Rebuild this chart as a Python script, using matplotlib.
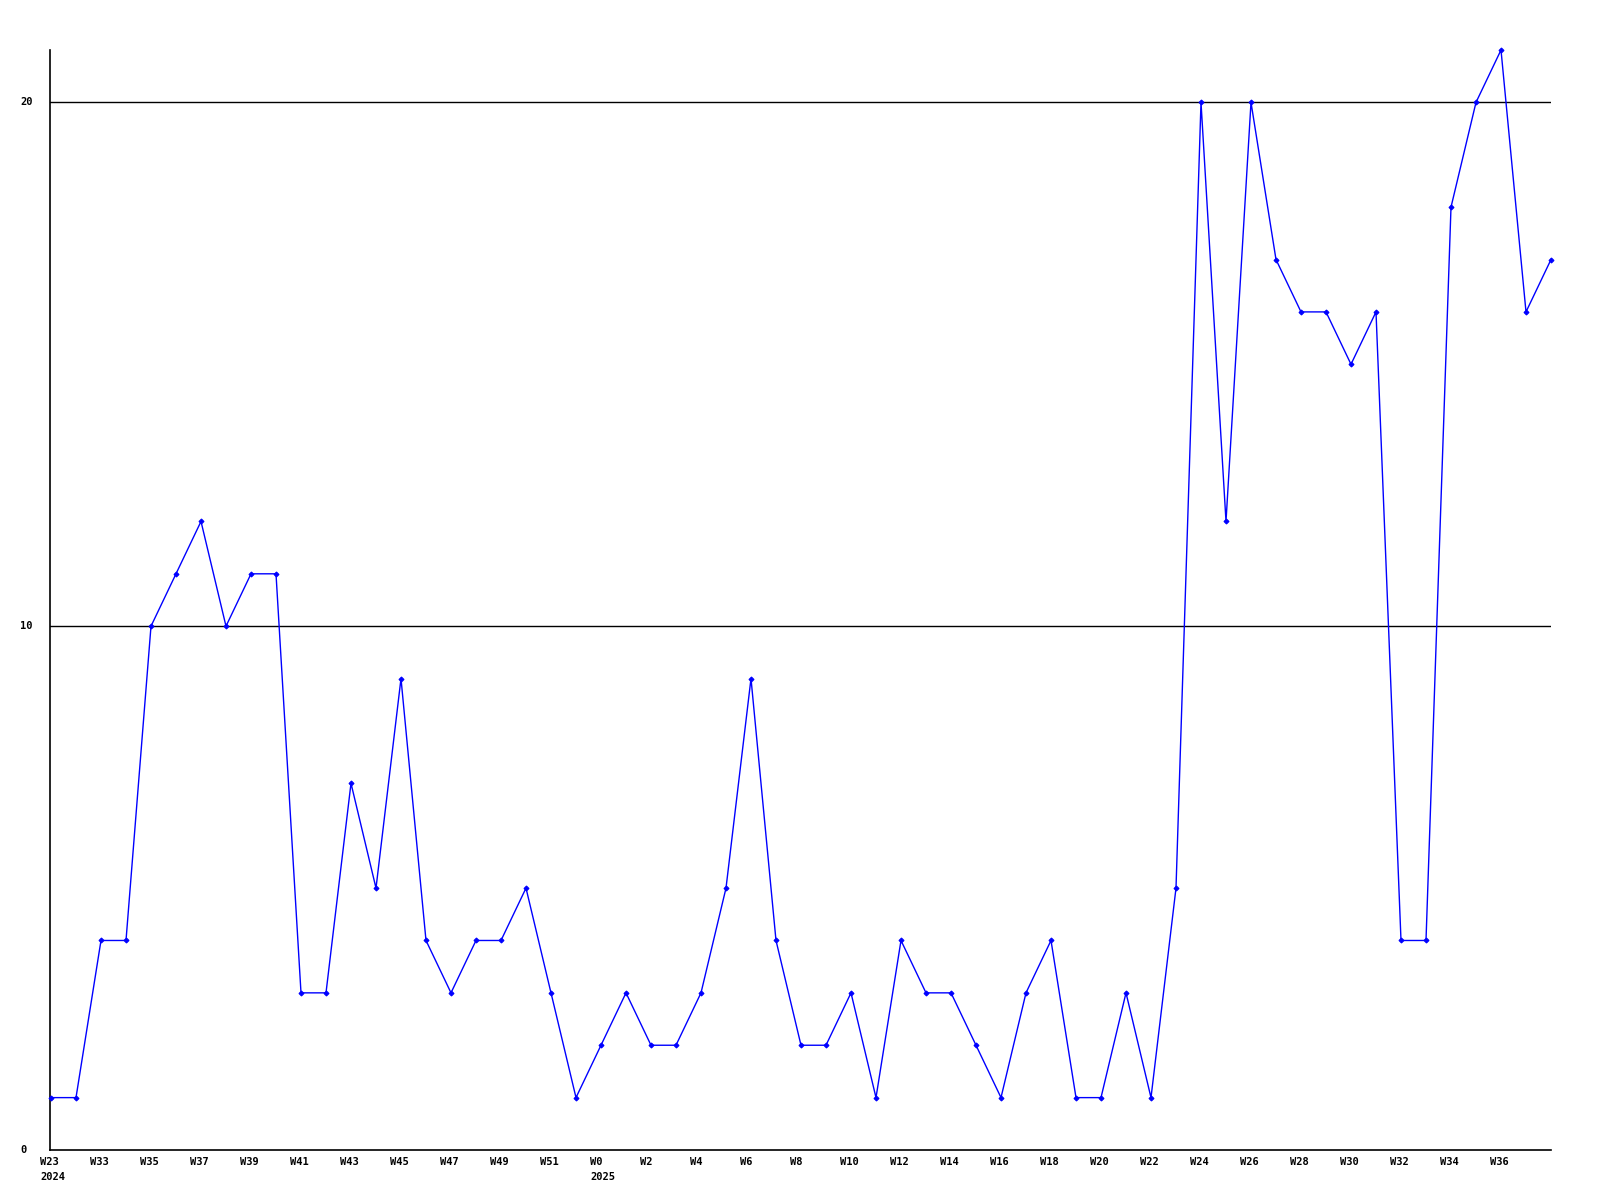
import matplotlib
matplotlib.use("Agg")
import matplotlib.pyplot as plt

week_labels = ["W23", "W33", "W35", "W37", "W39", "W41", "W43", "W45", "W47", "W49",
               "W51", "W0", "W2", "W4", "W6", "W8", "W10", "W12", "W14", "W16",
               "W18", "W20", "W22", "W24", "W26", "W28", "W30", "W32", "W34", "W36"]
year_labels = {"W23": "2024", "W0": "2025"}

values = [1, 1, 4, 4, 10, 11, 12, 10, 11, 11,
          3, 3, 7, 5, 9, 4, 3, 4, 4, 5,
          3, 1, 2, 3, 2, 2, 3, 5, 9, 4,
          2, 2, 3, 1, 4, 3, 3, 2, 1, 3,
          4, 1, 1, 3, 1, 5, 20, 12, 20, 17,
          16, 16, 15, 16, 4, 4, 18, 20, 21, 16,
          17]
y_ticks = [0, 10, 20]

W, H = 1600, 1200
fig = plt.figure(figsize=(16, 12), dpi=100)
fig.patch.set_facecolor("white")
ax = fig.add_axes([50 / W, 50 / H, 1501 / W, 1100 / H])

x = list(range(len(values)))
ax.plot(x, values, color="#0000ff", linewidth=1.0, marker="D", markersize=2.5,
        markeredgewidth=0.8, zorder=3, clip_on=False)

ax.set_xlim(-0.04, len(values) - 1)
ax.set_ylim(0, 21)

for yv in y_ticks[1:]:
    ax.axhline(yv, color="black", linewidth=1.0, zorder=2)

for s in ["top", "right"]:
    ax.spines[s].set_visible(False)
for s in ["left", "bottom"]:
    ax.spines[s].set_linewidth(1.2)
    ax.spines[s].set_color("black")

ax.set_xticks([])
ax.set_yticks([])

font = dict(family="DejaVu Sans Mono", fontweight="bold", fontsize=7.5, color="black")

# y labels
for yv in y_ticks:
    ypix = 1150 - yv * (1100 / 21)
    fig.text(20 / W, 1 - ypix / H, str(yv), ha="left", va="center", **font)

# x labels every 2 points
for i, lab in enumerate(week_labels):
    idx = i * 2
    xpix = 51 + idx * 25
    fig.text((xpix - 11) / W, 1 - 1162 / H, lab, ha="left", va="center", **font)
    if lab in year_labels:
        fig.text((xpix - 11) / W, 1 - 1177 / H, year_labels[lab], ha="left", va="center", **font)

fig.savefig("out.png", dpi=100, facecolor="white")
